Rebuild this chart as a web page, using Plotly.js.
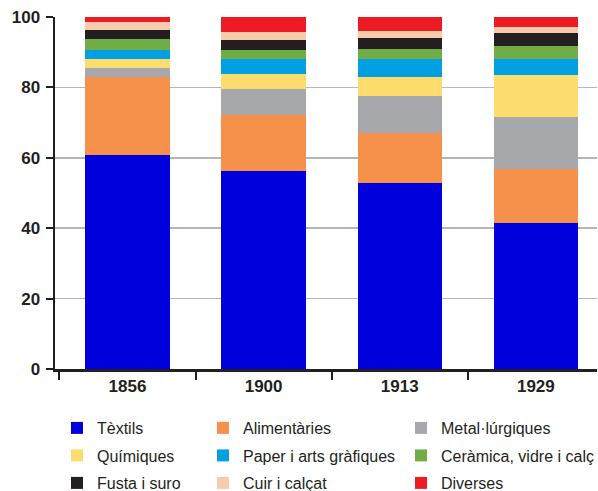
<!DOCTYPE html>
<html>
<head>
<meta charset="utf-8">
<script src="https://cdn.plot.ly/plotly-3.0.1.min.js"></script>
<style>html,body{margin:0;padding:0;background:#fff;}#chart{width:598px;height:491px;}</style>
</head>
<body>
<div id="chart"></div>
<script>
var years = ['1856', '1900', '1913', '1929'];
var seriesNames = ['Tèxtils', 'Alimentàries', 'Metal·lúrgiques', 'Químiques', 'Paper i arts gràfiques', 'Ceràmica, vidre i calç', 'Fusta i suro', 'Cuir i calçat', 'Diverses'];
var textils      = [60.8, 56.3, 52.8, 41.5];
var alimentaries = [22.1, 15.8, 14.2, 15.3];
var metallurgiques = [2.6, 7.4, 10.5, 14.8];
var quimiques    = [2.5, 4.3, 5.4, 12.0];
var paper        = [2.6, 4.2, 5.1, 4.5];
var ceramica     = [3.1, 2.6, 2.9, 3.7];
var fusta        = [2.7, 2.8, 3.1, 3.7];
var cuir         = [2.3, 2.3, 2.0, 1.8];
var diverses     = [1.3, 4.3, 4.0, 2.6];
var yTicks = [0, 20, 40, 60, 80, 100];

var seriesValues = [textils, alimentaries, metallurgiques, quimiques, paper, ceramica, fusta, cuir, diverses];
var colors = ['#0000dc', '#f5914a', '#a7a8ab', '#fddc6e', '#00a0e3', '#70ad47', '#231f20', '#f9cbad', '#ed1c24'];
var legendIds = ['legend', 'legend2', 'legend3'];

var traces = seriesNames.map(function (name, i) {
  return {
    type: 'bar',
    name: name,
    x: years,
    y: seriesValues[i],
    marker: {color: colors[i], line: {width: 0}},
    legend: legendIds[i % 3],
    legendgroup: 'g' + i,
    hoverinfo: 'name+y'
  };
});

var ML = 55, MT = 17, PW = 542, PH = 352;
var legendFont = {family: 'Liberation Sans, Arial, sans-serif', size: 16, color: '#231f20'};
function mkLegend(xpx) {
  return {
    x: (xpx - ML) / PW, y: (MT + PH - 411) / PH,
    xanchor: 'left', yanchor: 'top',
    orientation: 'v',
    traceorder: 'grouped',
    tracegroupgap: 3.7,
    font: legendFont,
    bgcolor: 'rgba(0,0,0,0)',
    borderwidth: 0
  };
}

var layout = {
  width: 598, height: 491,
  margin: {l: ML, r: 598 - ML - PW, t: MT, b: 491 - MT - PH, pad: 0, autoexpand: false},
  paper_bgcolor: '#fff', plot_bgcolor: '#fff',
  barmode: 'stack',
  bargap: 0.38,
  showlegend: true,
  legend: mkLegend(57),
  legend2: mkLegend(203),
  legend3: mkLegend(401),
  xaxis: {
    type: 'category',
    range: [-0.532, 3.449],
    tickson: 'boundaries',
    ticks: 'outside', ticklen: 8, tickwidth: 2, tickcolor: '#231f20',
    showline: true, linecolor: '#231f20', linewidth: 2.5,
    showgrid: false,
    tickfont: {family: 'Liberation Sans, Arial, sans-serif', size: 17, color: '#231f20', weight: 'bold'},
    tickangle: 0,
    fixedrange: true
  },
  yaxis: {
    range: [0, 100],
    tickvals: yTicks,
    ticks: 'outside', ticklen: 7, tickwidth: 2, tickcolor: '#231f20',
    showline: true, linecolor: '#231f20', linewidth: 2.5,
    showgrid: true, gridcolor: '#b5b5b5', gridwidth: 1.5,
    zeroline: false,
    tickfont: {family: 'Liberation Sans, Arial, sans-serif', size: 17, color: '#231f20', weight: 'bold'},
    ticklabelstandoff: 2,
    fixedrange: true
  }
};

Plotly.newPlot('chart', traces, layout, {displayModeBar: false, staticPlot: true});
</script>
</body>
</html>
